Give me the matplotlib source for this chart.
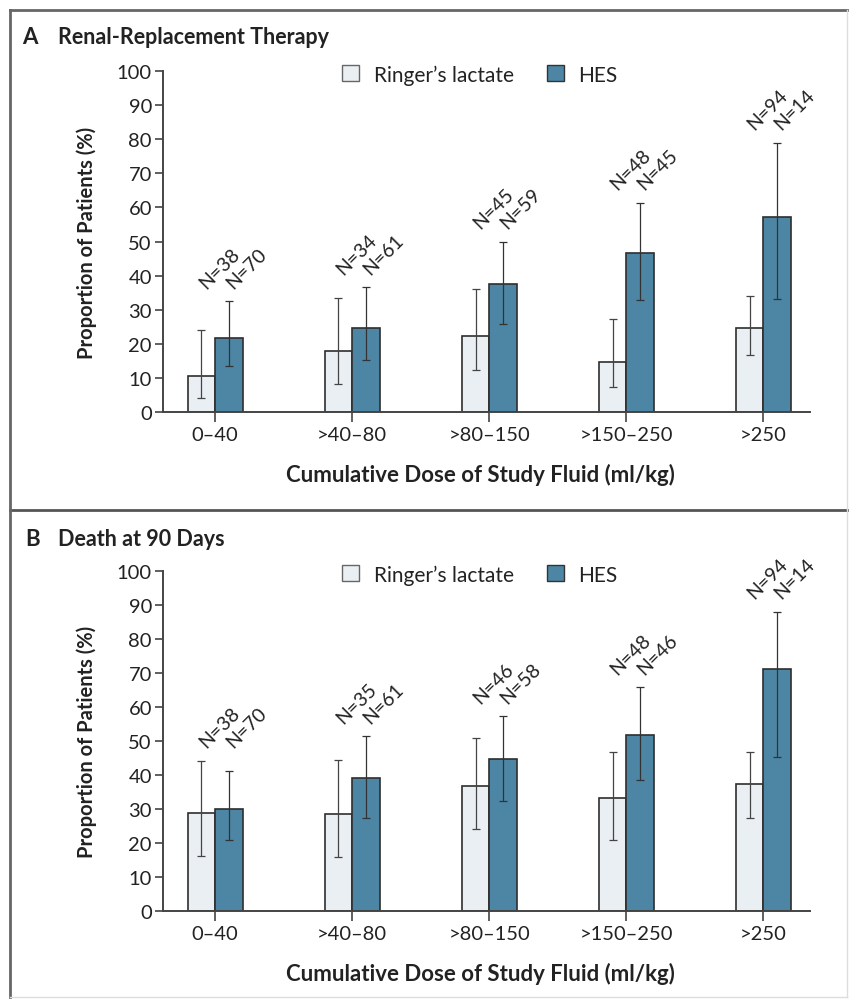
import matplotlib.pyplot as plt
import numpy as np
from matplotlib.lines import Line2D
from matplotlib.patches import Patch

plt.rcParams['font.family'] = ['Lato', 'DejaVu Sans']

# data
categories = ['0–40', '>40–80', '>80–150', '>150–250', '>250']

# A: renal-replacement therapy
rrt_rl = [10.7, 17.8, 22.3, 14.6, 24.6]
rrt_rl_lo = [4.0, 8.3, 12.4, 7.4, 16.8]
rrt_rl_hi = [24.1, 33.3, 36.0, 27.2, 34.0]
rrt_hes = [21.7, 24.6, 37.4, 46.6, 57.3]
rrt_hes_lo = [13.4, 15.3, 25.7, 32.8, 33.0]
rrt_hes_hi = [32.5, 36.7, 50.0, 61.4, 79.0]
rrt_n_rl = [38, 34, 45, 48, 94]
rrt_n_hes = [70, 61, 59, 45, 14]

# B: death at 90 days
death_rl = [28.9, 28.4, 36.9, 33.1, 37.3]
death_rl_lo = [16.3, 15.8, 24.1, 21.0, 27.5]
death_rl_hi = [44.2, 44.5, 51.0, 46.9, 46.9]
death_hes = [29.9, 39.1, 44.7, 51.7, 71.3]
death_hes_lo = [21.0, 27.5, 32.5, 38.4, 45.2]
death_hes_hi = [41.3, 51.5, 57.3, 65.8, 88.0]
death_n_rl = [38, 35, 46, 48, 94]
death_n_hes = [70, 61, 58, 46, 14]

RL_COLOR = '#eaeff3'
HES_COLOR = '#4d86a4'
EDGE = '#2e2e2e'
AXIS = '#444444'
TXT = '#222222'


def draw_panel(ax, rl, rl_lo, rl_hi, hes, hes_lo, hes_hi, n_rl, n_hes):
    x = np.arange(len(categories))
    w = 0.2
    rl, hes = np.array(rl), np.array(hes)
    ax.bar(x - w / 2, rl, w, color=RL_COLOR, edgecolor=EDGE, linewidth=1.2, zorder=2)
    ax.bar(x + w / 2, hes, w, color=HES_COLOR, edgecolor=EDGE, linewidth=1.2, zorder=2)
    ax.errorbar(x - w / 2, rl, yerr=[rl - np.array(rl_lo), np.array(rl_hi) - rl],
                fmt='none', ecolor='#444444', elinewidth=0.9, capsize=3, capthick=0.9, zorder=3)
    ax.errorbar(x + w / 2, hes, yerr=[hes - np.array(hes_lo), np.array(hes_hi) - hes],
                fmt='none', ecolor='#333333', elinewidth=0.9, capsize=3, capthick=0.9, zorder=3)

    # sample sizes, rotated above each pair
    for i in range(len(x)):
        top = max(rl_hi[i], hes_hi[i]) + 3
        ax.text(x[i] - w / 2 - 0.04, top, f'N={n_rl[i]}', rotation=45,
                ha='left', va='bottom', fontsize=14, color=TXT)
        ax.text(x[i] + w / 2 - 0.04, top, f'N={n_hes[i]}', rotation=45,
                ha='left', va='bottom', fontsize=14, color=TXT)

    ax.set_xlim(-0.38, 4.34)
    ax.set_ylim(0, 100)
    ax.set_yticks(range(0, 101, 10))
    ax.set_xticks(x)
    ax.set_xticklabels(categories)
    for s in ['top', 'right']:
        ax.spines[s].set_visible(False)
    for s in ['left', 'bottom']:
        ax.spines[s].set_color(AXIS)
        ax.spines[s].set_linewidth(1.4)
    ax.tick_params(axis='y', length=6, width=1.2, pad=2, labelsize=14.5, color=AXIS, labelcolor=TXT)
    ax.tick_params(axis='x', length=7, width=1.2, pad=3, labelsize=14.5, color=AXIS, labelcolor=TXT)

    ax.set_ylabel('Proportion of Patients (%)', fontweight='bold', fontsize=14.5, color=TXT)
    ax.yaxis.set_label_coords(-0.102, 0.5)
    ax.set_xlabel('Cumulative Dose of Study Fluid (ml/kg)', fontweight='bold', fontsize=16, color=TXT)
    ax.xaxis.set_label_coords(0.49, -0.15)
    ax.xaxis.label.set_va('top')

    handles = [Patch(facecolor=RL_COLOR, edgecolor='#666666', linewidth=1.0),
               Patch(facecolor=HES_COLOR, edgecolor='#333333', linewidth=1.0)]
    ax.legend(handles, ['Ringer’s lactate', 'HES'], loc='center', bbox_to_anchor=(0.49, 0.99),
              ncol=2, frameon=False, fontsize=15, handlelength=0.8, handleheight=0.8,
              handletextpad=0.7, columnspacing=1.6, labelcolor=TXT)


fig = plt.figure(figsize=(8.5, 10.04), dpi=100)

ax_a = fig.add_axes([163 / 850, 1 - 413 / 1004, 647 / 850, 341 / 1004])
draw_panel(ax_a, rrt_rl, rrt_rl_lo, rrt_rl_hi, rrt_hes, rrt_hes_lo, rrt_hes_hi, rrt_n_rl, rrt_n_hes)

ax_b = fig.add_axes([163 / 850, 1 - 912 / 1004, 647 / 850, 340 / 1004])
draw_panel(ax_b, death_rl, death_rl_lo, death_rl_hi, death_hes, death_hes_lo, death_hes_hi,
           death_n_rl, death_n_hes)

# panel titles
fig.text(22 / 850, 1 - 37 / 1004, 'A', fontsize=16, fontweight='bold', va='center', color=TXT)
fig.text(58 / 850, 1 - 37 / 1004, 'Renal-Replacement Therapy', fontsize=15.5, fontweight='bold',
         va='center', color=TXT)
fig.text(25 / 850, 1 - 540 / 1004, 'B', fontsize=16, fontweight='bold', va='center', color=TXT)
fig.text(58 / 850, 1 - 540 / 1004, 'Death at 90 Days', fontsize=15.5, fontweight='bold',
         va='center', color=TXT)

# frame around both panels
x0, x1 = 10 / 850, 847 / 850
y_top, y_mid, y_bot = 1 - 11 / 1004, 1 - 511 / 1004, 1 - 998 / 1004
fig.add_artist(Line2D([x0, x1], [y_top, y_top], color='#666666', lw=2))
fig.add_artist(Line2D([x0, x1], [y_mid, y_mid], color='#555555', lw=2))
fig.add_artist(Line2D([x0, x0], [y_bot, y_top], color='#666666', lw=2))
fig.add_artist(Line2D([x1, x1], [y_bot, y_top], color='#dddddd', lw=1))
fig.add_artist(Line2D([x0, x1], [y_bot, y_bot], color='#dddddd', lw=1))

fig.savefig('out.png', dpi=100)
